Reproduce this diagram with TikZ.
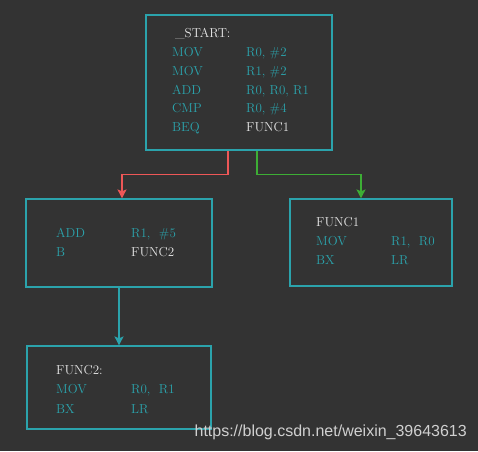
\documentclass[tikz,border=0pt]{standalone}
\usepackage{fontspec}
\newfontfamily\urlfont{Liberation Sans}
\usepackage{xcolor}
\usetikzlibrary{arrows.meta,positioning}
\definecolor{bgdark}{HTML}{333333}
\definecolor{tealc}{HTML}{2BA3AC}
\definecolor{redc}{HTML}{EE5757}
\definecolor{greenc}{HTML}{3DAE35}
\definecolor{whitec}{HTML}{E6E6E6}
\definecolor{urlgray}{HTML}{D0D0D0}
\tikzset{
  codebox/.style={draw=tealc, line width=1.2pt, inner sep=0pt},
  optext/.style={anchor=base west, inner sep=0pt, text=tealc, font=\fontsize{13}{15}\selectfont},
  lbltext/.style={optext, text=whitec},
  flow/.style={line width=1.6pt, -{Stealth[length=9pt,width=9pt,inset=2pt]}},
  urltext/.style={anchor=east, inner sep=0pt, text=urlgray, font=\urlfont\fontsize{16}{18}\selectfont}
}

\begin{document}
\begin{tikzpicture}[x=1pt,y=-1pt]
				\fill[bgdark] (0,0) rectangle (478,451);
				\useasboundingbox (0,0) rectangle (478,451);
				% boxes
				\node[codebox, minimum width=186pt, minimum height=135pt] (start) at (239,82.5) {};
				\node[codebox, minimum width=186pt, minimum height=88pt] (addbox) at (119,243) {};
				\node[codebox, minimum width=162pt, minimum height=87pt] (func1) at (371,242.5) {};
				\node[codebox, minimum width=184pt, minimum height=83pt] (func2) at (119,387.5) {};
				% _START block
				\node[lbltext] (startlbl) at (175,37) {\_START:};
				\foreach \y/\op/\arg in {56/MOV/{R0, \#2}, 75/MOV/{R1, \#2}, 94/ADD/{R0, R0, R1}, 112/CMP/{R0, \#4}}
				{\node[optext] (startop\y) at (172,\y) {\op};
				 \node[optext] (startarg\y) at (246,\y) {\arg};}
				\node[optext] (beqop) at (172,131) {BEQ};
				\node[lbltext] (beqarg) at (246,131) {FUNC1};
				% ADD block
				\node[optext] (addop) at (56,237) {ADD};
				\node[optext] (addarg) at (131,237) {R1,~ \#5};
				\node[optext] (bop) at (56,256) {B};
				\node[lbltext] (barg) at (131,256) {FUNC2};
				% FUNC1 block
				\node[lbltext] (func1lbl) at (316,226) {FUNC1};
				\node[optext] (func1op) at (316,245) {MOV};
				\node[optext] (func1arg) at (391,245) {R1,~ R0};
				\node[optext] (func1bx) at (316,264) {BX};
				\node[optext] (func1lr) at (391,264) {LR};
				% FUNC2 block
				\node[lbltext] (func2lbl) at (56,374) {FUNC2:};
				\node[optext] (func2op) at (56,393) {MOV};
				\node[optext] (func2arg) at (131,393) {R0,~ R1};
				\node[optext] (func2bx) at (56,413) {BX};
				\node[optext] (func2lr) at (131,413) {LR};
				% connectors
				\draw[flow, redc] ([xshift=-11pt]start.south) -- ++(0,24) -| ([xshift=3pt]addbox.north);
				\draw[flow, greenc] ([xshift=18pt]start.south) -- ++(0,24) -| ([xshift=-10pt]func1.north);
				\draw[flow, tealc] (addbox.south) -- (func2.north);
				\node[urltext] (wmark) at (467,432) {https://blog.csdn.net/weixin\_39643613};
				\end{tikzpicture}
\end{document}
